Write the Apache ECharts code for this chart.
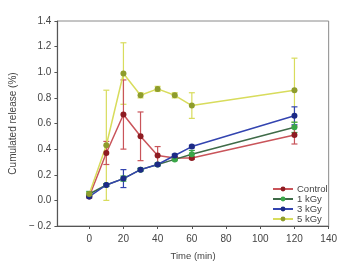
<!DOCTYPE html>
<html>
<head>
<meta charset="utf-8">
<script src="https://cdn.jsdelivr.net/npm/echarts@6/dist/echarts.min.js"></script>
<style>
  html, body { margin: 0; padding: 0; background: #fff; }
  #chart { width: 340px; height: 266px; }
</style>
</head>
<body>
<div id="chart"></div>
<script>
  // time points (min)
  var times = [0, 10, 20, 30, 40, 50, 60, 120];
  var xTicks = [0, 20, 40, 60, 80, 100, 120, 140];

  // cumulated release (%) and error (+/-)
  var control = [0.03, 0.37, 0.67, 0.50, 0.35, 0.33, 0.33, 0.51];
  var controlErr = [0.01, 0.09, 0.27, 0.19, 0.07, 0.01, 0.01, 0.07];
  var kgy1 = [0.05, 0.12, 0.17, 0.24, 0.28, 0.32, 0.36, 0.57];
  var kgy1Err = [0.02, 0.01, 0.02, 0.01, 0.01, 0.01, 0.03, 0.04];
  var kgy3 = [0.03, 0.12, 0.17, 0.24, 0.28, 0.35, 0.42, 0.66];
  var kgy3Err = [0.01, 0.01, 0.07, 0.01, 0.01, 0.01, 0.01, 0.07];
  var kgy5 = [0.05, 0.43, 0.99, 0.82, 0.87, 0.82, 0.74, 0.86];
  var kgy5Err = [0.01, 0.43, 0.24, 0.02, 0.02, 0.02, 0.10, 0.25];

  var names = ['Control', '1 kGy', '3 kGy', '5 kGy'];
  var lineColors = ['#c9545a', '#3f6b48', '#3344b0', '#d8dc5c'];
  var dotColors = ['#8e1c22', '#3aa648', '#1c2a86', '#8e9c2c'];
  var barColors = ['#c9545a', '#3aa648', '#3344b0', '#d8dc5c'];
  var values = [control, kgy1, kgy3, kgy5];
  var errors = [controlErr, kgy1Err, kgy3Err, kgy5Err];

  var font = 'Liberation Sans, Arial, sans-serif';

  function errorSeries(i) {
    var data = times.map(function (t, k) { return [t, values[i][k], errors[i][k]]; });
    return {
      type: 'custom',
      name: names[i] + ' err',
      data: data,
      z: 1,
      silent: true,
      renderItem: function (params, api) {
        var x = api.value(0), y = api.value(1), e = api.value(2);
        var hi = api.coord([x, y + e]);
        var lo = api.coord([x, y - e]);
        var w = 3;
        var style = { stroke: barColors[i], lineWidth: 1.2 };
        return {
          type: 'group',
          children: [
            { type: 'line', shape: { x1: hi[0], y1: hi[1], x2: lo[0], y2: lo[1] }, style: style },
            { type: 'line', shape: { x1: hi[0] - w, y1: hi[1], x2: hi[0] + w, y2: hi[1] }, style: style },
            { type: 'line', shape: { x1: lo[0] - w, y1: lo[1], x2: lo[0] + w, y2: lo[1] }, style: style }
          ]
        };
      },
      encode: { x: 0, y: 1 }
    };
  }

  function lineSeries(i) {
    return {
      type: 'line',
      name: names[i],
      data: times.map(function (t, k) { return [t, values[i][k]]; }),
      symbol: 'circle',
      symbolSize: 6,
      z: 3,
      lineStyle: { color: lineColors[i], width: 1.5 },
      itemStyle: { color: dotColors[i] }
    };
  }

  var series = [];
  for (var i = 3; i >= 0; i--) series.push(errorSeries(i));
  for (var j = 0; j < 4; j++) series.push(lineSeries(j));

  var myChart = echarts.init(document.getElementById('chart'));
  var option = {
    animation: false,
    textStyle: { fontFamily: font },
    grid: {
      left: 43, right: 7, top: 21, bottom: 37,
      show: true, borderColor: '#8a8a8a', borderWidth: 1
    },
    legend: {
      data: names,
      orient: 'vertical',
      left: 272,
      top: 184,
      padding: 0,
      itemWidth: 20,
      itemHeight: 6,
      itemGap: 0,
      textStyle: { fontSize: 9.5, lineHeight: 10, color: '#444', fontFamily: font, padding: [0, 0, 0, -1] }
    },
    xAxis: {
      type: 'value',
      min: -18.6,
      max: 140,
      name: 'Time (min)',
      nameLocation: 'middle',
      nameGap: 25,
      nameTextStyle: { fontSize: 9.5, color: '#444' },
      axisLine: { onZero: false, lineStyle: { color: '#555', width: 1.2 } },
      axisTick: { show: true, length: 3, customValues: xTicks, lineStyle: { color: '#555' } },
      axisLabel: { customValues: xTicks, fontSize: 10, color: '#444', margin: 8 },
      splitLine: { show: false }
    },
    yAxis: {
      type: 'value',
      min: -0.2,
      max: 1.4,
      interval: 0.2,
      name: 'Cumulated release (%)',
      nameLocation: 'middle',
      nameGap: 34,
      nameTextStyle: { fontSize: 10, color: '#444' },
      axisLine: { show: true, onZero: false, lineStyle: { color: '#555', width: 1.2 } },
      axisTick: { show: true, length: 3, lineStyle: { color: '#555' } },
      axisLabel: {
        fontSize: 10, color: '#444', margin: 6,
        formatter: function (v) {
          var s = Math.abs(v).toFixed(1);
          return v < -1e-9 ? '\u2212 ' + s : s;
        }
      },
      splitLine: { show: false }
    },
    series: series
  };
  myChart.setOption(option);
</script>
</body>
</html>
